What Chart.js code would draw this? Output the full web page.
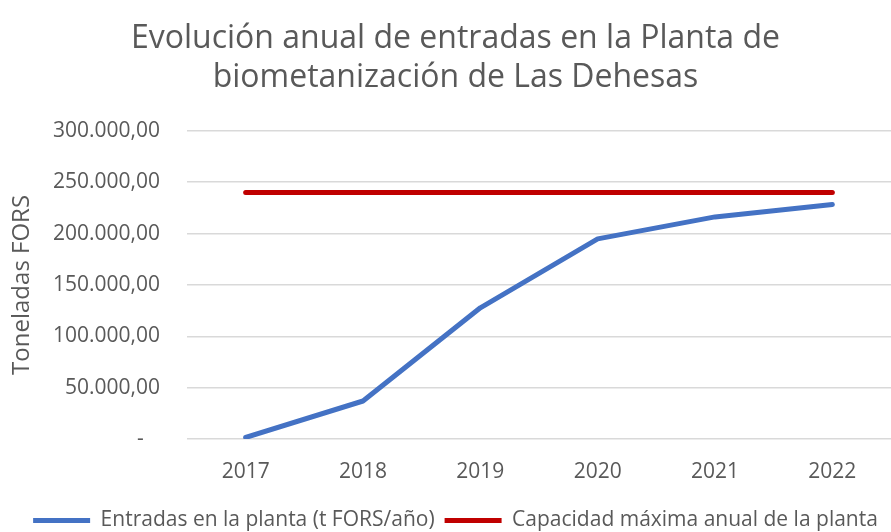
<!DOCTYPE html>
<html>
<head>
<meta charset="utf-8">
<script src="https://cdn.jsdelivr.net/npm/chart.js@4"></script>
<style>
  html, body { margin: 0; padding: 0; background: #fff; }
  #wrap { width: 891px; height: 532px; overflow: hidden; }
</style>
</head>
<body>
<div id="wrap"><canvas id="chart" width="891" height="532"></canvas></div>
<script>
const years = ["2017", "2018", "2019", "2020", "2021", "2022"];
const entradas = [1500, 37000, 127700, 194800, 216200, 228300];
const capacidad = [240000, 240000, 240000, 240000, 240000, 240000];
const titleLines = ["Evolución anual de entradas en la Planta de", "biometanización de Las Dehesas"];

const FONT = "'Open Sans', 'Noto Sans', sans-serif";
const GREY = "#595959";

// 250000 -> "250.000,00"
function fmt(v) {
    if (v === 0) return "-   ";
    const parts = v.toFixed(2).split(".");
    return parts[0].replace(/\B(?=(\d{3})+(?!\d))/g, ".") + "," + parts[1];
}

const ctx = document.getElementById("chart").getContext("2d");
new Chart(ctx, {
    type: "line",
    data: {
        labels: years,
        datasets: [
            {
                label: "Entradas en la planta (t FORS/año)",
                data: entradas,
                borderColor: "#4472C4",
                backgroundColor: "#4472C4",
                borderWidth: 5,
                pointRadius: 0,
                borderCapStyle: "round",
                borderJoinStyle: "round",
                tension: 0,
            },
            {
                label: "Capacidad máxima anual de la planta",
                data: capacidad,
                borderColor: "#C00000",
                backgroundColor: "#C00000",
                borderWidth: 5,
                pointRadius: 0,
                borderCapStyle: "round",
            },
        ],
    },
    options: {
        responsive: false,
        animation: false,
        // chart is cut off on the right (and legend sits low) in the original
        layout: { padding: { left: 8, right: -12, top: 0, bottom: -9 } },
        plugins: {
            title: {
                display: true,
                text: titleLines,
                color: GREY,
                font: { family: FONT, size: 32, weight: "normal", lineHeight: 1.2 },
                padding: { top: 20, bottom: 34 },
            },
            legend: {
                position: "bottom",
                labels: {
                    color: GREY,
                    font: { family: FONT, size: 21 },
                    boxWidth: 57,
                    boxHeight: 5,
                    padding: 10,
                    generateLabels: (chart) =>
                        Chart.defaults.plugins.legend.labels.generateLabels(chart).map((l) => ({ ...l, lineWidth: 0 })),
                },
            },
            tooltip: { enabled: false },
        },
        scales: {
            x: {
                offset: true,
                grid: { display: false },
                border: { display: false },
                ticks: { color: GREY, font: { family: FONT, size: 21 }, padding: 12 },
                afterFit: (axis) => { axis.height = 61; },
            },
            y: {
                min: 0,
                max: 300000,
                ticks: {
                    stepSize: 50000,
                    color: GREY,
                    font: { family: FONT, size: 21 },
                    padding: 27,
                    callback: (v) => fmt(v),
                },
                grid: { color: "#D9D9D9", lineWidth: 1.5, drawTicks: false },
                border: { display: false },
                title: {
                    display: true,
                    text: "Toneladas FORS",
                    color: GREY,
                    font: { family: FONT, size: 24 },
                    padding: { top: 0, bottom: 0 },
                },
                afterFit: (axis) => { axis.width = 179; },
            },
        },
    },
});
</script>
</body>
</html>
